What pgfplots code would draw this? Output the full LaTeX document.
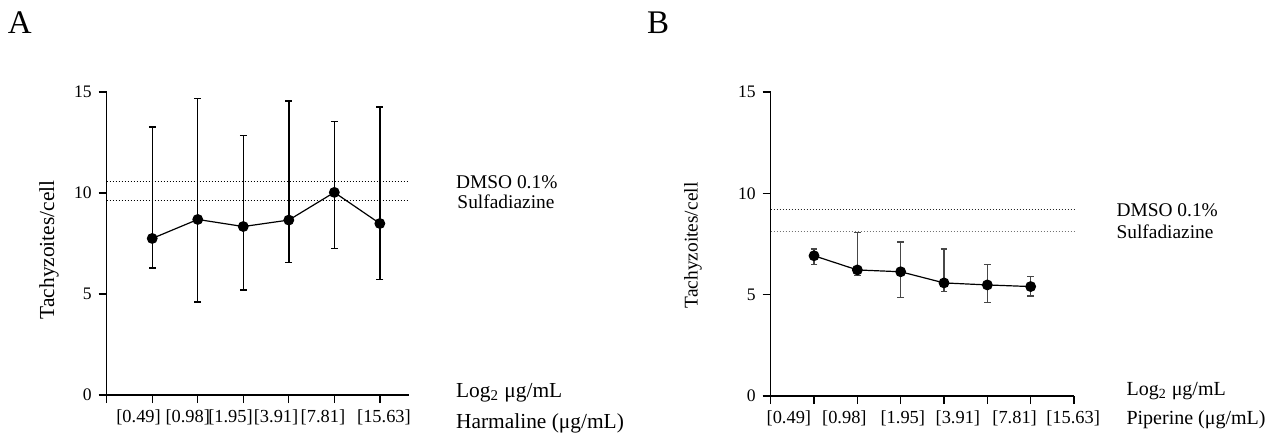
\documentclass[border=0pt]{standalone}
\usepackage{fontspec}
\setmainfont{Liberation Serif}
\usepackage{pgfplots}
\usepackage{pgfplotstable}
\pgfplotsset{compat=1.18}

% mean with upper and lower end of the error bar
\pgfplotstableread{
x y hi lo
1 7.75 13.27 6.29
2 8.69 14.69 4.61
3 8.34 12.85 5.19
4 8.66 14.55 6.56
5 10.03 13.55 7.25
6 8.49 14.26 5.73
}\harmaline

\pgfplotstableread{
x y hi lo
1 6.92 7.25 6.50
2 6.22 8.07 5.96
3 6.13 7.59 4.86
4 5.58 7.25 5.15
5 5.48 6.49 4.61
6 5.40 5.89 4.94
}\piperine

\pgfplotsset{
  panel/.style={
    scale only axis,
    axis x line*=bottom,
    axis y line*=left,
    axis line style={-, line width=0.65pt},
    ymin=0, ymax=15,
    ytick={0,5,10,15},
    tick align=outside,
    major tick length=4pt,
    tick style={line width=0.65pt, black},
    xticklabels={},
    /pgf/number format/assume math mode=true,
    yticklabel style={font=\fontsize{8.8}{10}\selectfont},
    xticklabel style={font=\fontsize{9.2}{10}\selectfont, yshift=-4pt},
    extra x tick style={major tick length=0pt},
    clip=false,
    ylabel={Tachyzoites/cell},
  },
  means/.style={black, line width=0.6pt, mark=*, mark size=2.4pt,
    error bars/.cd, y dir=both, y explicit,
    error bar style={line width=0.7pt, #1},
    error mark options={rotate=90, mark size=1.7pt, line width=0.7pt, #1}},
  ref/.style={line width=0.5pt, dash pattern=on 0.5pt off 1pt, #1},
}

\begin{document}
\begin{tikzpicture}
\useasboundingbox (0,0) rectangle (632.5pt,217pt);
\node[font=\fontsize{16.5}{18}\selectfont] at (9.9pt,205.5pt) {A};
\node[font=\fontsize{16.5}{18}\selectfont] at (329pt,205.5pt) {B};

\begin{axis}[panel,
    at={(53.35pt,19.5pt)}, anchor=south west,
    width=151.15pt, height=151.5pt,
    xmin=0, xmax=6.64,
    xtick={0,...,6},
    extra x ticks={0.70,1.78,2.72,3.72,4.75,6.09},
    extra x tick labels={{[0.49]},{[0.98]},{[1.95]},{[3.91]},{[7.81]},{[15.63]}},
    ylabel style={font=\fontsize{10.7}{12}\selectfont, at={(axis description cs:-0.191,0.479)}, anchor=center},
]
\addplot[ref=black] coordinates {(0,10.56) (6.64,10.56)};
\addplot[ref=black] coordinates {(0,9.61) (6.64,9.61)};
\addplot[means=black] table[x=x, y=y,
    y error plus expr=\thisrow{hi}-\thisrow{y},
    y error minus expr=\thisrow{y}-\thisrow{lo}] {\harmaline};
\node[anchor=west, font=\fontsize{9.7}{11}\selectfont] at (axis cs:7.52,10.52) {DMSO 0.1\%};
\node[anchor=west, font=\fontsize{9.7}{11}\selectfont] at (axis cs:7.55,9.58) {Sulfadiazine};
\node[anchor=west, font=\fontsize{10.7}{12}\selectfont] at (axis cs:7.52,0.11) {Log\textsubscript{2} μg/mL};
\node[anchor=west, font=\fontsize{10.7}{12}\selectfont] at (axis cs:7.52,-1.40) {Harmaline (μg/mL)};
\end{axis}

\begin{axis}[panel,
    at={(385.35pt,19pt)}, anchor=south west,
    width=151.65pt, height=152pt,
    xmin=0, xmax=7,
    xtick={0,...,7},
    extra x ticks={0.42,1.70,3.05,4.32,5.63,6.98},
    extra x tick labels={{[0.49]},{[0.98]},{[1.95]},{[3.91]},{[7.81]},{[15.63]}},
    ylabel style={font=\fontsize{9.7}{11}\selectfont, at={(axis description cs:-0.256,0.495)}, anchor=center},
]
\addplot[ref=black!85] coordinates {(0,9.21) (7,9.21)};
\addplot[ref=black!55] coordinates {(0,8.10) (7,8.10)};
\addplot[means=black!72] table[x=x, y=y,
    y error plus expr=\thisrow{hi}-\thisrow{y},
    y error minus expr=\thisrow{y}-\thisrow{lo}] {\piperine};
\node[anchor=west, font=\fontsize{9.7}{11}\selectfont] at (axis cs:7.82,9.18) {DMSO 0.1\%};
\node[anchor=west, font=\fontsize{9.7}{11}\selectfont] at (axis cs:7.82,8.08) {Sulfadiazine};
\node[anchor=west, font=\fontsize{10}{12}\selectfont] at (axis cs:8.05,0.26) {Log\textsubscript{2} μg/mL};
\node[anchor=west, font=\fontsize{10}{12}\selectfont] at (axis cs:8.05,-1.18) {Piperine (μg/mL)};
\end{axis}
\end{tikzpicture}
\end{document}
